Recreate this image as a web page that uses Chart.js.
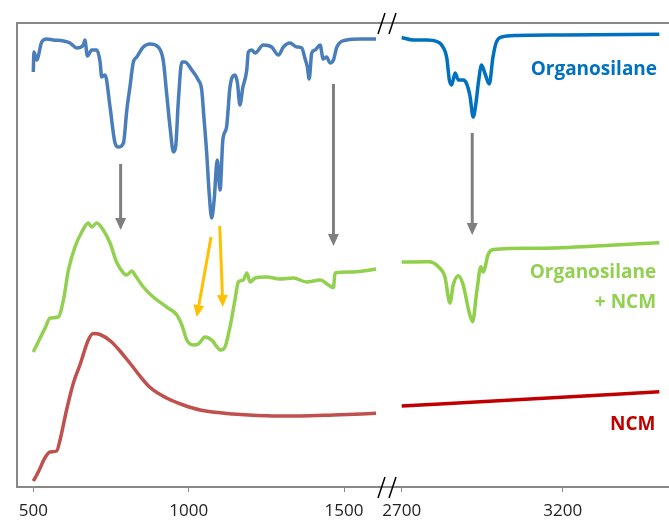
<!DOCTYPE html>
<html>
<head>
<meta charset="utf-8">
<script src="https://cdn.jsdelivr.net/npm/chart.js@4"></script>
<style>
  body { margin: 0; background: #fff; }
  #wrap { width: 669px; height: 523px; }
</style>
</head>
<body>
<div id="wrap"><canvas id="ftir"></canvas></div>
<script>
// wavenumbers (cm-1) and transmittance (arb. units, offset per trace)
const organoLowWn = [500, 502, 511, 527, 543, 564, 597, 618, 640, 661, 666, 674, 688, 704, 715, 720, 731, 747, 763, 774, 790, 801, 811, 822, 833, 854, 876, 902, 918, 929, 940, 951, 958, 967, 978, 988, 1010, 1031, 1042, 1049, 1058, 1066, 1074, 1082, 1092, 1101, 1110, 1122, 1133, 1149, 1157, 1165, 1174, 1187, 1192, 1203, 1214, 1240, 1267, 1289, 1305, 1326, 1348, 1364, 1374, 1382, 1388, 1396, 1407, 1423, 1433, 1444, 1455, 1466, 1477, 1509, 1553, 1603];
const organoLowT = [415, 435, 427, 445, 448, 447, 446, 444, 439, 442, 447, 431, 437, 437, 425, 410, 412, 380, 344, 340, 344, 377, 400, 425, 430, 440, 443, 440, 427, 394, 360, 335, 340, 387, 425, 425, 417, 407, 397, 370, 334, 294, 269, 287, 327, 297, 347, 360, 400, 412, 404, 382, 399, 417, 435, 437, 434, 442, 440, 432, 440, 444, 440, 439, 429, 420, 408, 434, 437, 442, 428, 430, 424, 427, 440, 447, 448, 448];
const organoHighWn = [2700, 2736, 2778, 2809, 2824, 2840, 2848, 2855, 2866, 2876, 2891, 2902, 2912, 2922, 2931, 2938, 2948, 2959, 2972, 2983, 2993, 3011, 3057, 3202, 3500];
const organoHighT = [449.5, 447, 447, 445.5, 442, 429, 407, 402, 414, 407, 407, 403, 391, 370, 385, 404, 422, 413, 403, 429, 444, 450, 451.5, 452, 452.7];

const mixLowWn = [500, 522, 538, 554, 580, 597, 613, 634, 656, 677, 688, 704, 725, 747, 768, 790, 801, 817, 827, 854, 886, 929, 962, 978, 994, 1015, 1031, 1053, 1074, 1103, 1117, 1133, 1149, 1160, 1176, 1187, 1198, 1214, 1251, 1294, 1337, 1380, 1423, 1450, 1466, 1471, 1520, 1562, 1603];
const mixLowT = [135, 149, 159, 169, 170, 187, 217, 240, 255, 264, 260, 264, 257, 244, 225, 214, 212, 216, 212, 200, 190, 180, 172, 162, 147, 142, 143, 150, 147, 137, 140, 160, 187, 205, 207, 214, 205, 209, 210, 208, 209, 205, 207, 202, 199.5, 214, 215, 216, 218];
const mixHighWn = [2700, 2783, 2814, 2834, 2850, 2860, 2876, 2891, 2909, 2920, 2933, 2946, 2953, 2969, 2984, 3114, 3306, 3500];
const mixHighT = [225, 225.3, 220.3, 210.3, 184, 202, 211.3, 202, 175.3, 165.3, 195, 220.3, 215, 233, 237.5, 238.7, 241, 244.3];

const ncmLowWn = [500, 516, 538, 554, 575, 586, 607, 629, 650, 677, 693, 715, 750, 779, 795, 822, 838, 876, 929, 983, 1037, 1144, 1251, 1358, 1466, 1603];
const ncmLowT = [6, 15, 29.5, 35, 36, 47, 77, 104, 122, 147, 153.5, 152.5, 145.5, 136, 130, 119.5, 113, 99.5, 89, 82, 77, 73, 71.3, 71, 72, 73.7];
const ncmHighWn = [2700, 3098, 3500];
const ncmHighT = [81, 88, 95.3];

const lowTicks = [500, 1000, 1500];
const highTicks = [2700, 3200];

// band assignment arrows: [axis, wn from, T from, wn to, T to, colour]
const arrows = [
  ['xL', 781, 323, 781, 257, '#7f7f7f'],
  ['xL', 1466, 403, 1466, 241, '#7f7f7f'],
  ['xR', 2919, 354, 2919, 252, '#7f7f7f'],
  ['xL', 1072, 250, 1026, 170, '#ffc000'],
  ['xL', 1100, 261, 1110, 180, '#ffc000']
];

// trace names at the right edge: [text, wn, T, colour]
const traceNames = [
  ['Organosilane', 3493, 417, '#0070c0'],
  ['Organosilane', 3490, 214, '#92d050'],
  ['+ NCM', 3490, 184, '#92d050'],
  ['NCM', 3488, 62, '#c00000']
];

function pts(xs, ys) {
  return xs.map((x, i) => ({x: x, y: ys[i]}));
}

function trace(xs, ys, color, axis) {
  return {
    data: pts(xs, ys),
    xAxisID: axis,
    borderColor: color,
    borderWidth: 3.5,
    pointRadius: 0,
    cubicInterpolationMode: 'monotone',
    fill: false
  };
}

const extras = {
  id: 'extras',
  afterDatasetsDraw(chart) {
    const ctx = chart.ctx;
    const y = chart.scales.y;
    ctx.save();

    // arrows
    arrows.forEach(a => {
      const sx = chart.scales[a[0]];
      const x1 = sx.getPixelForValue(a[1]), y1 = y.getPixelForValue(a[2]);
      const x2 = sx.getPixelForValue(a[3]), y2 = y.getPixelForValue(a[4]);
      const ang = Math.atan2(y2 - y1, x2 - x1);
      const head = 12, half = 5.5;
      const bx = x2 - Math.cos(ang) * head, by = y2 - Math.sin(ang) * head;
      ctx.strokeStyle = a[5];
      ctx.fillStyle = a[5];
      ctx.lineWidth = 3;
      ctx.beginPath();
      ctx.moveTo(x1, y1);
      ctx.lineTo(bx, by);
      ctx.stroke();
      ctx.beginPath();
      ctx.moveTo(x2, y2);
      ctx.lineTo(bx + Math.sin(ang) * half, by - Math.cos(ang) * half);
      ctx.lineTo(bx - Math.sin(ang) * half, by + Math.cos(ang) * half);
      ctx.closePath();
      ctx.fill();
    });

    // trace names
    ctx.font = 'bold 19px "Open Sans"';
    ctx.textAlign = 'right';
    ctx.textBaseline = 'middle';
    traceNames.forEach(t => {
      ctx.fillStyle = t[3];
      ctx.fillText(t[0], chart.scales.xR.getPixelForValue(t[1]), y.getPixelForValue(t[2]));
    });

    // axis break marks
    const bx = chart.scales.xL.right;
    ctx.strokeStyle = '#000';
    ctx.lineWidth = 1.5;
    [chart.chartArea.top, chart.chartArea.bottom].forEach(ay => {
      [-12, -1].forEach(dx => {
        ctx.beginPath();
        ctx.moveTo(bx + dx, ay + 11);
        ctx.lineTo(bx + dx + 7, ay - 10);
        ctx.stroke();
      });
    });
    ctx.restore();
  }
};

const axisGrey = '#888';

function bottomAxis(min, max, ticks, weight) {
  return {
    type: 'linear',
    position: 'bottom',
    stack: 'wn',
    stackWeight: weight,
    min: min,
    max: max,
    afterBuildTicks: s => { s.ticks = ticks.map(v => ({value: v})); },
    afterFit: s => {
      s.height = 36;
      s.paddingLeft = 0;
      s.paddingRight = 0;
    },
    grid: {display: true, drawOnChartArea: false, drawTicks: true, tickLength: 5, color: axisGrey},
    border: {display: true, color: axisGrey, width: 2},
    ticks: {
      autoSkip: false,
      maxRotation: 0,
      padding: 9,
      color: '#222',
      font: {family: '"Open Sans"', size: 17},
      callback: v => String(v)
    }
  };
}

new Chart(document.getElementById('ftir'), {
  type: 'line',
  data: {
    datasets: [
      trace(organoLowWn, organoLowT, '#4a7ebb', 'xL'),
      trace(organoHighWn, organoHighT, '#0070c0', 'xR'),
      trace(mixLowWn, mixLowT, '#92d050', 'xL'),
      trace(mixHighWn, mixHighT, '#8fcf4a', 'xR'),
      trace(ncmLowWn, ncmLowT, '#c0504d', 'xL'),
      trace(ncmHighWn, ncmHighT, '#c00000', 'xR')
    ]
  },
  options: {
    responsive: true,
    maintainAspectRatio: false,
    animation: false,
    layout: {padding: {left: 17, top: 23, right: 0, bottom: 0}},
    plugins: {legend: {display: false}, tooltip: {enabled: false}},
    scales: {
      xL: bottomAxis(447.5, 1648, lowTicks, 373),
      xR: bottomAxis(2663.7, 3530, highTicks, 279),
      xT: {
        type: 'linear',
        position: 'top',
        min: 0,
        max: 1,
        afterFit: s => { s.height = 0; },
        grid: {display: false, drawTicks: false},
        border: {display: true, color: axisGrey, width: 2},
        ticks: {display: false}
      },
      y: {
        type: 'linear',
        min: 0,
        max: 464,
        afterFit: s => { s.width = 0; },
        grid: {display: false, drawTicks: false},
        border: {display: true, color: axisGrey, width: 2},
        ticks: {display: false}
      }
    }
  },
  plugins: [extras]
});
</script>
</body>
</html>
